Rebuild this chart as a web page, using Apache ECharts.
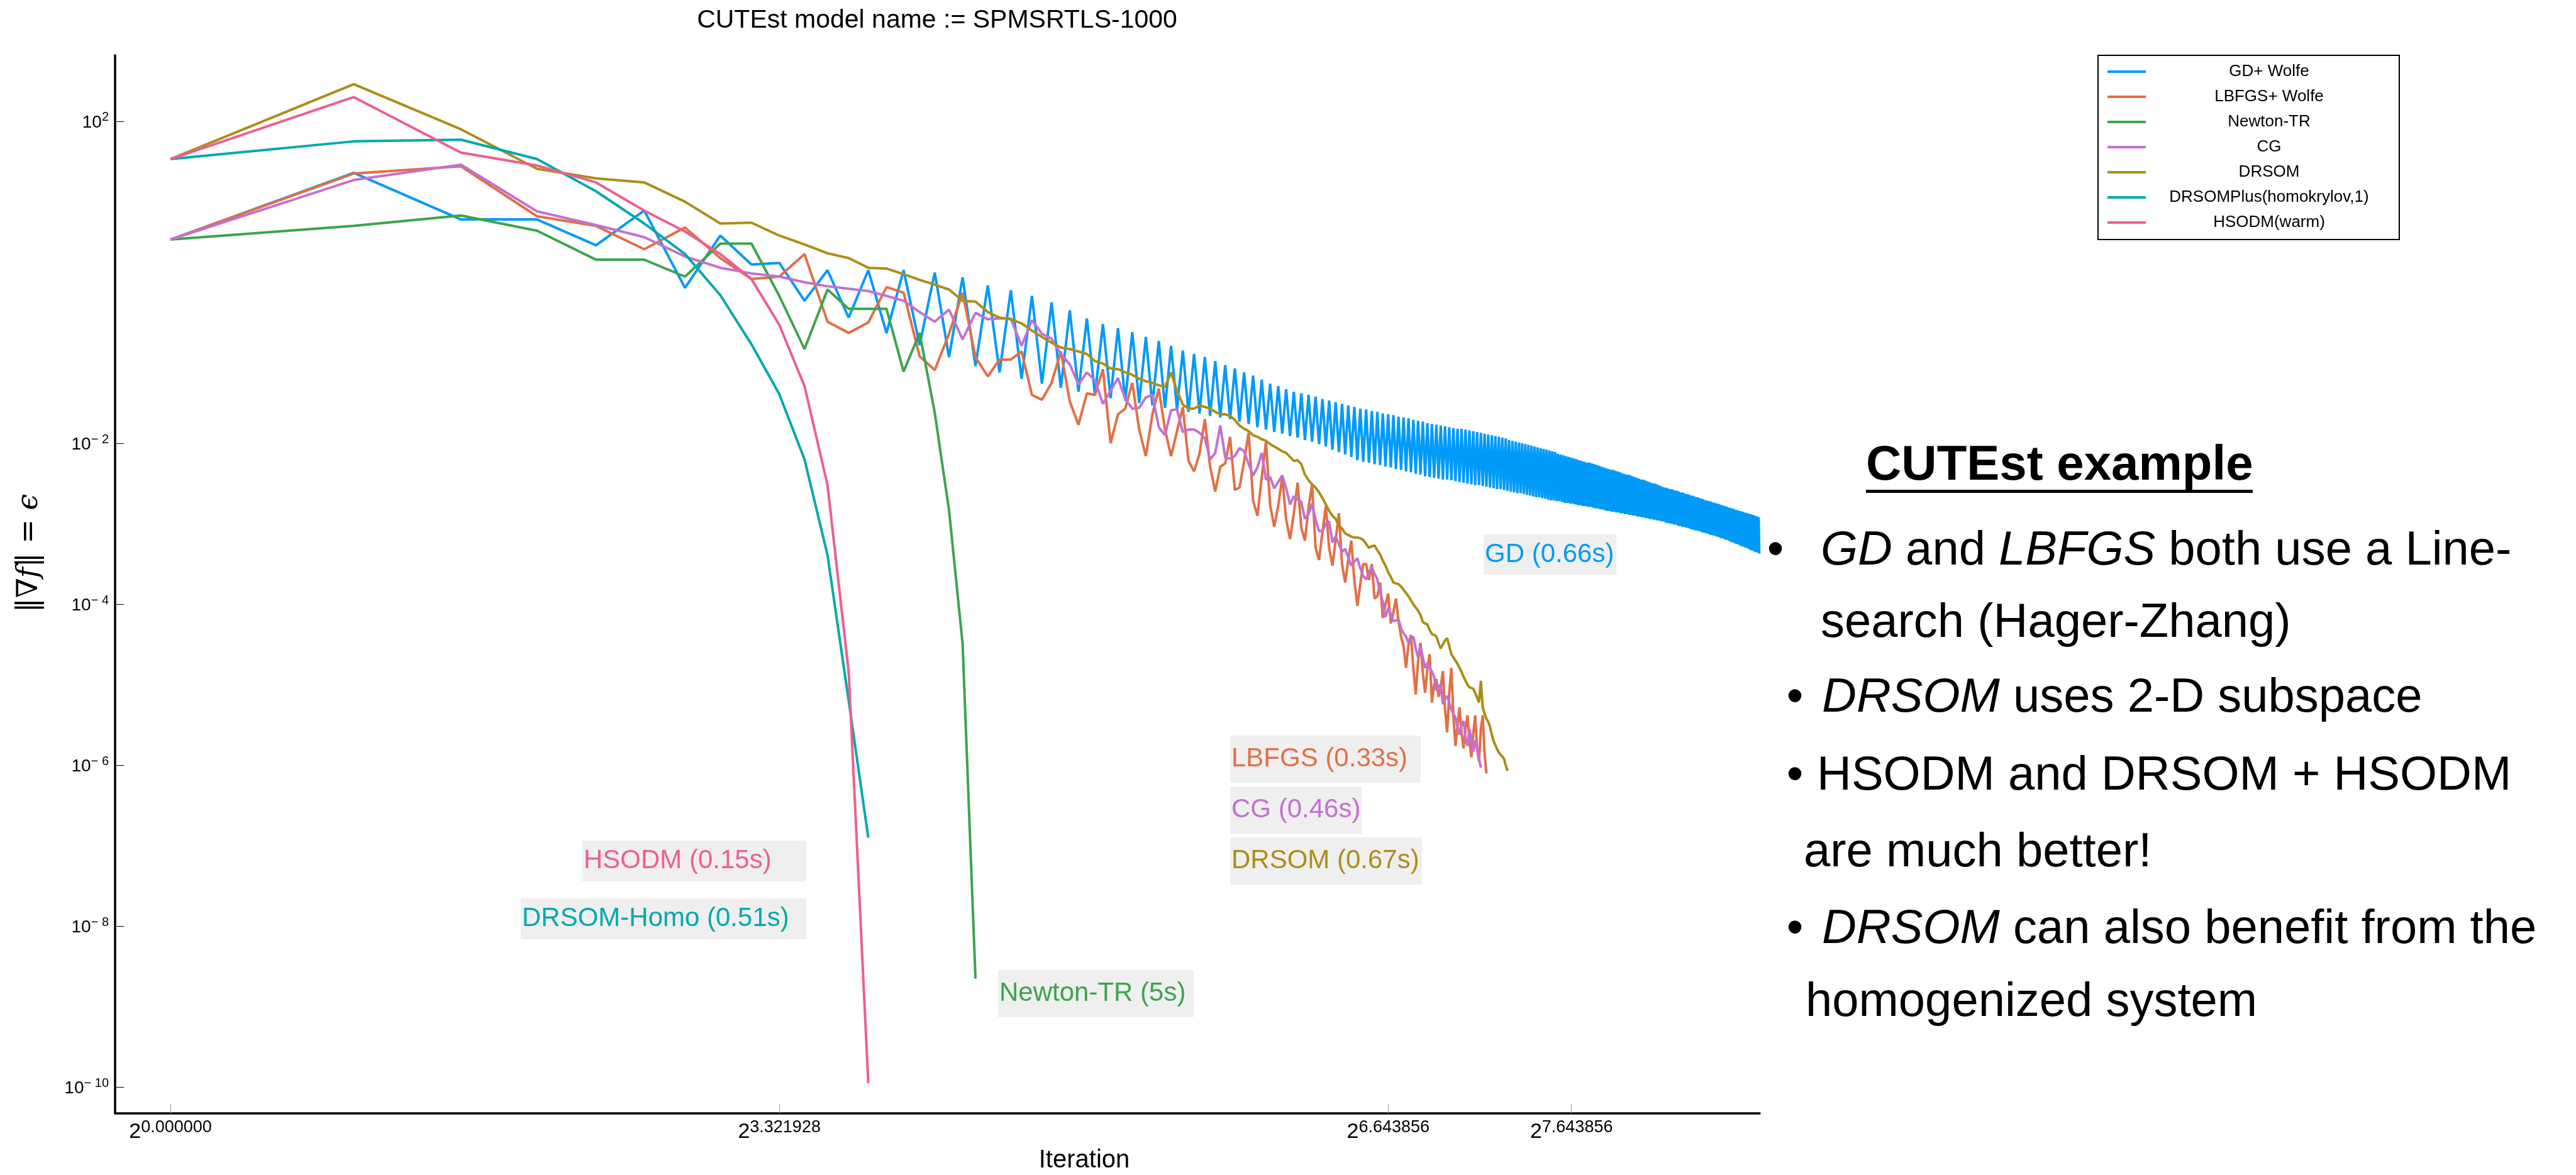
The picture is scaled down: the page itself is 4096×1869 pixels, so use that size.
<!DOCTYPE html>
<html>
<head>
<meta charset="utf-8">
<title>CUTEst SPMSRTLS-1000</title>
<script src="https://cdn.jsdelivr.net/npm/echarts@6.0.0/dist/echarts.min.js"></script>
<style>
  html, body { margin: 0; padding: 0; background: #fff; }
  #chart { width: 4096px; height: 1869px; }
</style>
</head>
<body>
<div id="chart"></div>
<script>
// iteration k = index + 1, values are log10(||grad f||)
var gdLog = [
  0.53, 1.36, 0.78, 0.78, 0.46, 0.89, -0.07, 0.58, 0.22, 0.24,
  -0.23, 0.15, -0.44, 0.15, -0.63, 0.15, -0.78, 0.12, -0.93, 0.06,
  -1.04, -0.04, -1.12, -0.10, -1.20, -0.17, -1.26, -0.25, -1.31, -0.35,
  -1.36, -0.45, -1.40, -0.52, -1.44, -0.57, -1.47, -0.62, -1.50, -0.68,
  -1.53, -0.73, -1.56, -0.79, -1.58, -0.85, -1.61, -0.89, -1.63, -0.93,
  -1.66, -0.98, -1.68, -1.03, -1.70, -1.07, -1.73, -1.12, -1.76, -1.16,
  -1.80, -1.21, -1.83, -1.26, -1.86, -1.29, -1.88, -1.33, -1.91, -1.36,
  -1.93, -1.38, -1.96, -1.40, -1.98, -1.42, -2.01, -1.45, -2.04, -1.47,
  -2.08, -1.49, -2.11, -1.51, -2.14, -1.53, -2.17, -1.55, -2.21, -1.57,
  -2.23, -1.58, -2.24, -1.60, -2.26, -1.61, -2.27, -1.63, -2.29, -1.64,
  -2.30, -1.65, -2.32, -1.67, -2.33, -1.68, -2.35, -1.69, -2.36, -1.71,
  -2.38, -1.72, -2.39, -1.73, -2.41, -1.75, -2.42, -1.76, -2.43, -1.77,
  -2.44, -1.78, -2.45, -1.79, -2.45, -1.80, -2.46, -1.81, -2.47, -1.82,
  -2.48, -1.82, -2.49, -1.83, -2.50, -1.84, -2.51, -1.85, -2.52, -1.86,
  -2.52, -1.87, -2.53, -1.88, -2.54, -1.89, -2.55, -1.90, -2.56, -1.91,
  -2.57, -1.92, -2.57, -1.93, -2.58, -1.94, -2.59, -1.96, -2.60, -1.97,
  -2.61, -1.98, -2.62, -1.99, -2.62, -2.00, -2.63, -2.01, -2.64, -2.02,
  -2.65, -2.03, -2.66, -2.04, -2.67, -2.05, -2.67, -2.06, -2.68, -2.07,
  -2.69, -2.08, -2.70, -2.09, -2.71, -2.10, -2.71, -2.11, -2.72, -2.13,
  -2.72, -2.14, -2.73, -2.15, -2.74, -2.16, -2.74, -2.17, -2.75, -2.18,
  -2.75, -2.19, -2.76, -2.20, -2.77, -2.21, -2.77, -2.22, -2.78, -2.23,
  -2.78, -2.24, -2.79, -2.24, -2.79, -2.25, -2.80, -2.26, -2.81, -2.27,
  -2.81, -2.28, -2.82, -2.29, -2.82, -2.30, -2.83, -2.31, -2.84, -2.32,
  -2.84, -2.33, -2.85, -2.33, -2.85, -2.34, -2.86, -2.35, -2.86, -2.36,
  -2.87, -2.37, -2.87, -2.38, -2.88, -2.39, -2.88, -2.39, -2.89, -2.40,
  -2.89, -2.41, -2.90, -2.42, -2.90, -2.43, -2.91, -2.44, -2.91, -2.45,
  -2.92, -2.45, -2.92, -2.46, -2.93, -2.47, -2.93, -2.48, -2.94, -2.49,
  -2.94, -2.50, -2.95, -2.50, -2.95, -2.51, -2.96, -2.52, -2.96, -2.53,
  -2.97, -2.54, -2.97, -2.55, -2.98, -2.55, -2.99, -2.56, -2.99, -2.57,
  -3.00, -2.57, -3.00, -2.58, -3.01, -2.59, -3.01, -2.59, -3.02, -2.60,
  -3.03, -2.61, -3.03, -2.61, -3.04, -2.62, -3.04, -2.63, -3.05, -2.63,
  -3.05, -2.64, -3.06, -2.65, -3.07, -2.65, -3.07, -2.66, -3.08, -2.67,
  -3.08, -2.67, -3.09, -2.68, -3.09, -2.69, -3.10, -2.69, -3.11, -2.70,
  -3.11, -2.71, -3.12, -2.71, -3.12, -2.72, -3.13, -2.72, -3.14, -2.73,
  -3.14, -2.74, -3.15, -2.74, -3.15, -2.75, -3.16, -2.75, -3.16, -2.76,
  -3.17, -2.77, -3.18, -2.77, -3.18, -2.78, -3.19, -2.78, -3.20, -2.79,
  -3.20, -2.80, -3.21, -2.80, -3.22, -2.81, -3.23, -2.81, -3.23, -2.82,
  -3.24, -2.83, -3.25, -2.83, -3.25, -2.84, -3.26, -2.84, -3.27, -2.85,
  -3.28, -2.85, -3.28, -2.86, -3.29, -2.86, -3.30, -2.87, -3.30, -2.87,
  -3.31, -2.88, -3.32, -2.88, -3.33, -2.89, -3.33, -2.89, -3.34, -2.90,
  -3.35, -2.91, -3.35, -2.91, -3.36, -2.92, -3.37
];
var lbfgsLog = [
  0.53, 1.35, 1.44, 0.82, 0.70, 0.41, 0.68, 0.30, 0.04, 0.07,
  0.35, -0.49, -0.63, -0.50, -0.06, -0.13, -0.92, -1.09, -0.64, -0.13,
  -0.93, -1.17, -0.96, -0.96, -0.86, -1.40, -1.46, -1.25, -0.86, -1.48,
  -1.77, -1.38, -1.40, -1.08, -2.00, -1.64, -1.57, -1.25, -1.83, -2.16,
  -1.64, -1.32, -1.83, -2.16, -1.85, -1.55, -2.22, -2.35, -2.13, -1.70,
  -2.29, -2.60, -2.29, -2.25, -1.92, -2.58, -2.55, -2.22, -1.87, -2.71,
  -2.90, -2.42, -1.98, -2.77, -3.04, -2.77, -2.42, -2.95, -3.19, -2.87,
  -2.49, -3.05, -3.21, -2.80, -2.51, -3.30, -3.45, -3.10, -2.78, -3.30,
  -3.52, -3.20, -2.87, -3.50, -3.73, -3.45, -3.21, -3.70, -4.02, -3.75,
  -3.50, -3.50, -3.70, -3.50, -3.93, -3.90, -3.73, -4.17, -4.00, -3.87,
  -4.24, -4.10, -3.93, -4.21, -4.40, -4.52, -4.79, -4.50, -4.38, -4.80,
  -5.12, -4.70, -4.48, -4.85, -5.10, -4.80, -4.62, -5.22, -5.00, -4.93,
  -5.15, -5.03, -4.83, -5.30, -5.59, -5.10, -4.79, -5.40, -5.76, -5.50,
  -5.28, -5.60, -5.79, -5.55, -5.38, -5.70, -5.90, -5.60, -5.38, -5.80,
  -5.95, -5.55, -5.38, -5.85, -6.10
];
var newtonLog = [
  0.53, 0.70, 0.83, 0.64, 0.28, 0.28, 0.07, 0.48, 0.48, -0.17,
  -0.83, -0.09, -0.33, -0.33, -0.33, -1.11, -0.63, -1.62, -2.83, -4.49,
  -8.65
];
var cgLog = [
  0.53, 1.27, 1.46, 0.88, 0.71, 0.56, 0.32, 0.18, 0.11, 0.07,
  0.00, -0.05, -0.08, -0.11, -0.17, -0.23, -0.37, -0.49, -0.34, -0.71,
  -0.38, -0.46, -0.45, -0.45, -0.79, -0.47, -0.64, -0.70, -0.89, -1.02,
  -1.27, -1.12, -1.22, -1.51, -1.35, -1.19, -1.45, -1.57, -1.56, -1.43,
  -1.40, -1.80, -1.90, -1.59, -1.58, -1.86, -1.83, -1.83, -1.87, -1.94,
  -2.20, -2.12, -1.78, -2.18, -2.19, -2.16, -2.06, -2.10, -2.26, -2.40,
  -2.30, -2.12, -2.45, -2.42, -2.56, -2.48, -2.40, -2.56, -2.76, -2.66,
  -2.70, -2.73, -2.94, -2.88, -2.75, -2.95, -3.09, -3.09, -3.00, -2.97,
  -3.23, -3.16, -3.25, -3.35, -3.31, -3.42, -3.52, -3.47, -3.43, -3.55,
  -3.65, -3.69, -3.60, -3.54, -3.62, -3.69, -3.85, -3.97, -4.16, -4.05,
  -4.12, -4.21, -4.20, -4.19, -4.30, -4.36, -4.40, -4.48, -4.44, -4.40,
  -4.55, -4.66, -4.52, -4.66, -4.79, -4.73, -4.78, -4.84, -4.90, -5.07,
  -5.02, -5.00, -5.24, -5.18, -5.14, -5.22, -5.31, -5.36, -5.41, -5.52,
  -5.62, -5.50, -5.45, -5.66, -5.76, -5.55, -5.68, -5.83, -5.69, -5.80,
  -5.92, -6.03
];
var drsomLog = [
  1.53, 2.46, 1.90, 1.41, 1.29, 1.24, 1.00, 0.73, 0.74, 0.58,
  0.47, 0.36, 0.30, 0.18, 0.17, 0.10, 0.03, -0.03, -0.09, -0.23,
  -0.24, -0.37, -0.44, -0.46, -0.51, -0.60, -0.68, -0.75, -0.81, -0.83,
  -0.86, -0.89, -0.98, -1.01, -1.07, -1.08, -1.12, -1.15, -1.20, -1.23,
  -1.25, -1.28, -1.30, -1.12, -1.35, -1.52, -1.57, -1.57, -1.53, -1.55,
  -1.57, -1.61, -1.64, -1.64, -1.66, -1.71, -1.78, -1.82, -1.85, -1.90,
  -1.92, -1.95, -1.97, -2.01, -2.04, -2.07, -2.10, -2.12, -2.17, -2.22,
  -2.21, -2.26, -2.39, -2.46, -2.51, -2.55, -2.61, -2.68, -2.76, -2.84,
  -2.90, -2.94, -3.02, -3.06, -3.12, -3.14, -3.16, -3.17, -3.17, -3.18,
  -3.20, -3.25, -3.30, -3.28, -3.27, -3.33, -3.38, -3.46, -3.52, -3.60,
  -3.66, -3.73, -3.74, -3.75, -3.78, -3.82, -3.86, -3.90, -3.95, -4.00,
  -4.04, -4.08, -4.13, -4.22, -4.24, -4.25, -4.32, -4.37, -4.38, -4.40,
  -4.48, -4.55, -4.50, -4.45, -4.42, -4.52, -4.62, -4.66, -4.70, -4.74,
  -4.79, -4.84, -4.90, -4.95, -5.00, -5.03, -5.04, -5.05, -5.10, -5.16,
  -5.22, -4.95, -5.28, -5.36, -5.42, -5.46, -5.52, -5.62, -5.70, -5.75,
  -5.80, -5.84, -5.87, -5.89, -5.92, -6.00, -6.07
];
var homoLog = [1.53, 1.75, 1.77, 1.53, 1.13, 0.73, 0.35, -0.16, -0.77, -1.39, -2.20, -3.39, -5.20, -6.90];
var hsodmLog = [1.53, 2.30, 1.61, 1.45, 1.24, 0.89, 0.63, 0.35, 0.04, -0.53, -1.29, -2.52, -4.84, -9.95];

var seriesNames = ['GD+ Wolfe', 'LBFGS+ Wolfe', 'Newton-TR', 'CG', 'DRSOM', 'DRSOMPlus(homokrylov,1)', 'HSODM(warm)'];
var xTickValues = [1, 10, 100, 200];
var yTickValues = [1e2, 1e-2, 1e-4, 1e-6, 1e-8, 1e-10];
var noteTexts = ['GD (0.66s)', 'LBFGS (0.33s)', 'CG (0.46s)', 'DRSOM (0.67s)', 'HSODM (0.15s)', 'DRSOM-Homo (0.51s)', 'Newton-TR (5s)'];

var colors = ['#009af9', '#e26f46', '#3da44e', '#c271d2', '#ac8e18', '#00a9ad', '#ed5e93'];
var FONT = 'Liberation Sans, Arial, Helvetica, sans-serif';

function toPoints(logs) {
  return logs.map(function (e, i) { return [i + 1, Math.pow(10, e)]; });
}

var allLogs = [gdLog, lbfgsLog, newtonLog, cgLog, drsomLog, homoLog, hsodmLog];
var series = allLogs.map(function (logs, i) {
  return {
    name: seriesNames[i],
    type: 'line',
    data: toPoints(logs),
    showSymbol: false,
    symbol: 'none',
    silent: true,
    lineStyle: { width: 4, color: colors[i] },
    itemStyle: { color: colors[i] }
  };
});

// annotation boxes: [x, y, w, h], colour index
var noteBoxes = [
  [2359, 850, 211, 64, 0],
  [1956, 1170, 303, 75, 1],
  [1956, 1251, 209, 75, 3],
  [1956, 1332, 305, 75, 4],
  [926, 1337, 356, 65, 6],
  [828, 1429, 454, 65, 5],
  [1587, 1543, 311, 75, 2]
];
var graphics = [];
noteBoxes.forEach(function (b, i) {
  graphics.push({ type: 'rect', z: 50, shape: { x: b[0], y: b[1], width: b[2], height: b[3] }, style: { fill: '#efefef' } });
  graphics.push({ type: 'text', z: 51, x: b[0] + 2, y: b[1] + b[3] / 2,
    style: { text: noteTexts[i], fill: colors[b[4]], fontSize: 42, fontFamily: FONT, verticalAlign: 'middle' } });
});

// titles
graphics.push({ type: 'text', x: 1490, y: 33, style: { text: 'CUTEst model name := SPMSRTLS-1000', fontSize: 41, fontFamily: FONT, fill: '#000', align: 'center', verticalAlign: 'middle' } });
graphics.push({ type: 'text', x: 1724, y: 1846, style: { text: 'Iteration', fontSize: 40, fontFamily: FONT, fill: '#000', align: 'center', verticalAlign: 'middle' } });
graphics.push({ type: 'text', x: 47, y: 880, rotation: Math.PI / 2,
  style: { text: '{n|‖∇}{i|f}{n|‖ = }{i|ϵ}', align: 'center', verticalAlign: 'middle', fill: '#000',
    rich: { n: { fontSize: 46, fontFamily: 'DejaVu Serif' }, i: { fontSize: 46, fontFamily: 'DejaVu Serif', fontStyle: 'italic' } } } });

// slide text on the right
var bodyRich = {
  n: { fontSize: 76, fontFamily: FONT, fill: '#000' },
  i: { fontSize: 76, fontFamily: FONT, fontStyle: 'italic', fill: '#000' }
};
graphics.push({ type: 'text', x: 2967, y: 741, style: { text: 'CUTEst example', fontSize: 78, fontWeight: 'bold', fontFamily: FONT, fill: '#000', verticalAlign: 'middle' } });
graphics.push({ type: 'rect', shape: { x: 2967, y: 779, width: 615, height: 5 }, style: { fill: '#000' } });
var bullets = [[2823, 877], [2854, 1111], [2854, 1235], [2854, 1479]];
bullets.forEach(function (p) {
  graphics.push({ type: 'text', x: p[0], y: p[1], style: { text: '•', fontSize: 76, fontFamily: FONT, fill: '#000', align: 'center', verticalAlign: 'middle' } });
});
var lines = [
  [2895, 877, '{i|GD}{n| and }{i|LBFGS}{n| both use a Line-}'],
  [2895, 992, '{n|search (Hager-Zhang)}'],
  [2897, 1111, '{i|DRSOM}{n| uses 2-D subspace}'],
  [2889, 1235, '{n|HSODM and DRSOM + HSODM}'],
  [2868, 1357, '{n|are much better!}'],
  [2897, 1479, '{i|DRSOM}{n| can also benefit from the}'],
  [2871, 1595, '{n|homogenized system}']
];
lines.forEach(function (l) {
  graphics.push({ type: 'text', x: l[0], y: l[1], style: { text: l[2], rich: bodyRich, verticalAlign: 'middle' } });
});

var chart = echarts.init(document.getElementById('chart'), null, { renderer: 'canvas' });
var option = {
  animation: false,
  backgroundColor: '#fff',
  grid: { left: 183, top: 88, width: 2615, height: 1683, containLabel: false, outerBoundsMode: 'none' },
  legend: {
    orient: 'vertical', left: 3336, top: 88,
    padding: [13, 16, 14, 15], itemGap: 14, itemWidth: 61, itemHeight: 4,
    icon: 'rect', selectedMode: false,
    borderColor: '#000', borderWidth: 2, backgroundColor: '#fff',
    data: seriesNames,
    formatter: function (name) { return '{c|' + name + '}'; },
    textStyle: { rich: { c: { width: 382, align: 'center', fontSize: 26, lineHeight: 30, fontFamily: FONT, color: '#000' } } }
  },
  xAxis: {
    type: 'log', logBase: 2, min: 0.811, max: 407.6,
    axisLine: { show: true, onZero: false, lineStyle: { color: '#000', width: 3.5 } },
    axisTick: { show: true, inside: true, length: 15, customValues: xTickValues, lineStyle: { color: '#999', width: 1 } },
    axisLabel: {
      customValues: xTickValues, margin: 9, color: '#000',
      formatter: function (v) { return '{b|2}{s|' + Math.log2(v).toFixed(6) + '}'; },
      rich: {
        b: { fontSize: 34, lineHeight: 38, verticalAlign: 'bottom', fontFamily: FONT, color: '#000' },
        s: { fontSize: 27, lineHeight: 27, verticalAlign: 'top', fontFamily: FONT, color: '#000' }
      }
    },
    splitLine: { show: false }
  },
  yAxis: {
    type: 'log', logBase: 10, min: 4.74e-11, max: 659,
    axisLine: { show: true, onZero: false, lineStyle: { color: '#000', width: 3.5 } },
    axisTick: { show: true, inside: true, length: 14, customValues: yTickValues, lineStyle: { color: '#000', width: 1 } },
    axisLabel: {
      customValues: yTickValues, margin: 10, color: '#000',
      formatter: function (v) {
        var e = Math.round(Math.log10(v));
        return '{b|10}{s|' + (e < 0 ? '\u2212 ' + (-e) : e) + '}';
      },
      rich: {
        b: { fontSize: 28, lineHeight: 32, verticalAlign: 'bottom', fontFamily: FONT, color: '#000' },
        s: { fontSize: 20, lineHeight: 20, verticalAlign: 'top', fontFamily: FONT, color: '#000' }
      }
    },
    splitLine: { show: false }
  },
  graphic: graphics,
  series: series
};
chart.setOption(option);
</script>
</body>
</html>
